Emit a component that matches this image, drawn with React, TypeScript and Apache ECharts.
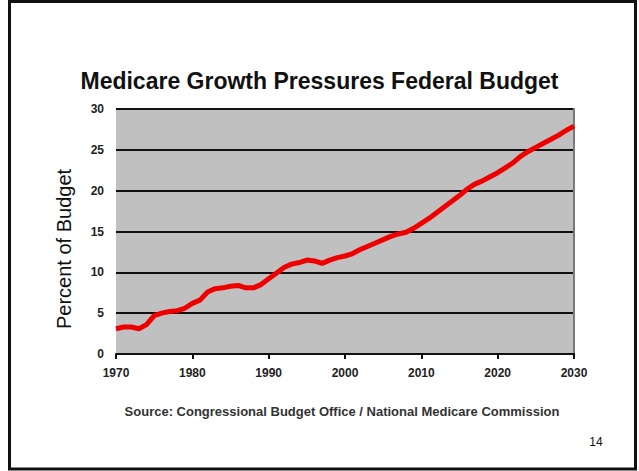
import React, { useEffect, useRef } from "react";
import * as echarts from "echarts";

const years: number[] = [
  1970, 1971, 1972, 1973, 1974, 1975, 1976, 1977, 1978, 1979,
  1980, 1981, 1982, 1983, 1984, 1985, 1986, 1987, 1988, 1989,
  1990, 1991, 1992, 1993, 1994, 1995, 1996, 1997, 1998, 1999,
  2000, 2001, 2002, 2003, 2004, 2005, 2006, 2007, 2008, 2009,
  2010, 2011, 2012, 2013, 2014, 2015, 2016, 2017, 2018, 2019,
  2020, 2021, 2022, 2023, 2024, 2025, 2026, 2027, 2028, 2029,
  2030,
];

const percentOfBudget: number[] = [
  3.1, 3.3, 3.3, 3.1, 3.6, 4.7, 5.0, 5.2, 5.3, 5.6,
  6.2, 6.6, 7.6, 8.0, 8.1, 8.3, 8.4, 8.1, 8.1, 8.5,
  9.2, 9.9, 10.6, 11.0, 11.2, 11.5, 11.4, 11.1, 11.5, 11.8,
  12.0, 12.3, 12.8, 13.2, 13.6, 14.0, 14.4, 14.7, 14.9, 15.4,
  16.0, 16.6, 17.3, 18.0, 18.7, 19.4, 20.2, 20.8, 21.2, 21.7,
  22.2, 22.8, 23.4, 24.2, 24.8, 25.3, 25.8, 26.3, 26.8, 27.4,
  27.9,
];

const titleText = "Medicare Growth Pressures Federal Budget";
const yAxisTitle = "Percent of Budget";
const sourceText = "Source: Congressional Budget Office / National Medicare Commission";
const pageNumber = "14";

const FONT = "'Liberation Sans', Arial, Helvetica, sans-serif";

export default function App() {
  const ref = useRef<HTMLDivElement>(null);

  useEffect(() => {
    if (!ref.current) return;
    const chart = echarts.init(ref.current, null, { renderer: "svg" });
    const data = years.map((y, i) => [y, percentOfBudget[i]]);
    chart.setOption({
      animation: false,
      backgroundColor: "#ffffff",
      title: {
        text: titleText,
        left: "center",
        top: 64,
        textStyle: {
          fontFamily: FONT,
          fontSize: 23,
          fontWeight: "bold",
          color: "#111111",
        },
      },
      grid: {
        left: 116,
        top: 109,
        width: 458,
        height: 245,
        show: true,
        backgroundColor: "#c0c0c0",
        borderWidth: 0,
      },
      xAxis: {
        type: "value",
        min: 1970,
        max: 2030,
        interval: 10,
        axisLine: { show: true, lineStyle: { color: "#111111", width: 2 } },
        axisTick: { show: true, length: 5, lineStyle: { color: "#111111", width: 2 } },
        splitLine: { show: false },
        axisLabel: {
          fontFamily: FONT,
          fontSize: 12,
          fontWeight: "bold",
          color: "#222222",
          margin: 13,
          formatter: (v: number) => String(v),
        },
      },
      yAxis: [
        {
          type: "value",
          min: 0,
          max: 30,
          interval: 5,
          axisLine: { show: false },
          axisTick: { show: false },
          splitLine: { show: true, lineStyle: { color: "#111111", width: 2 } },
          axisLabel: {
            fontFamily: FONT,
            fontSize: 12,
            fontWeight: "bold",
            color: "#222222",
            margin: 12,
          },
        },
        {
          type: "value",
          position: "right",
          min: 0,
          max: 30,
          interval: 5,
          axisLine: { show: true, lineStyle: { color: "#7a7a7a", width: 2 } },
          axisTick: { show: false },
          axisLabel: { show: false },
          splitLine: { show: false },
        },
      ],
      series: [
        {
          type: "line",
          data,
          symbol: "none",
          smooth: false,
          lineStyle: { color: "#ee0000", width: 5 },
          z: 5,
        },
      ],
      graphic: [
        {
          type: "rect",
          shape: { x: 9.5, y: 1.5, width: 626, height: 467.5 },
          style: { fill: "none", stroke: "#111111", lineWidth: 3 },
          silent: true,
        },
        {
          type: "text",
          x: 64,
          y: 249,
          rotation: Math.PI / 2,
          style: {
            text: yAxisTitle,
            fontFamily: FONT,
            fontSize: 20,
            fill: "#111111",
            align: "center",
            verticalAlign: "middle",
          },
        },
        {
          type: "text",
          x: 342,
          y: 411,
          style: {
            text: sourceText,
            fontFamily: FONT,
            fontSize: 13,
            fontWeight: "bold",
            fill: "#333333",
            align: "center",
            verticalAlign: "middle",
          },
        },
        {
          type: "text",
          x: 596,
          y: 442,
          style: {
            text: pageNumber,
            fontFamily: FONT,
            fontSize: 12,
            fill: "#111111",
            align: "center",
            verticalAlign: "middle",
          },
        },
      ],
    });
    return () => chart.dispose();
  }, []);

  return (
    <div
      style={{
        position: "fixed",
        left: 0,
        top: 0,
        width: 639,
        height: 471,
        background: "#ffffff",
      }}
    >
      <div ref={ref} style={{ width: 639, height: 471 }} />
    </div>
  );
}
